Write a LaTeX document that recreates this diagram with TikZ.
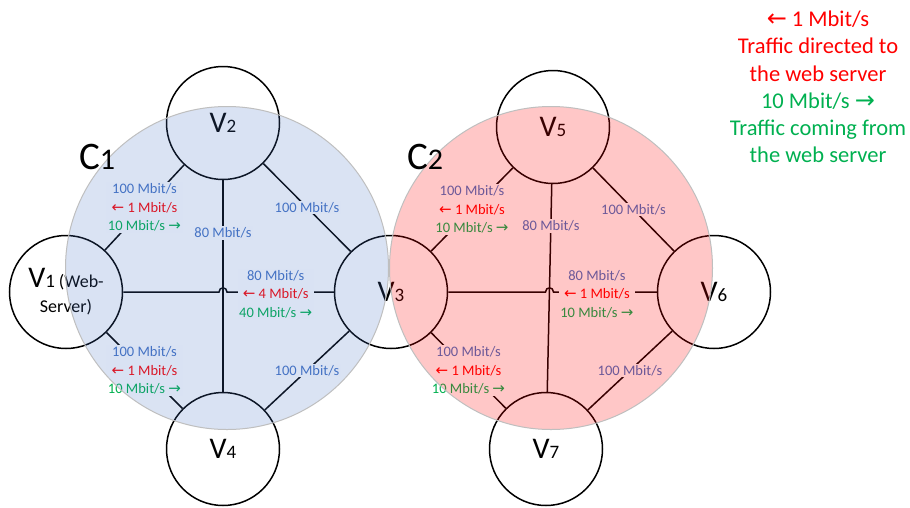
\documentclass[tikz,border=0pt]{standalone}
\usepackage{fontspec}
\setmainfont{Carlito}
\newfontfamily\arrowfont{DejaVu Sans}
\definecolor{tblue}{HTML}{4472C4}
\definecolor{tred}{HTML}{FF0000}
\definecolor{tgreen}{HTML}{00B050}
\newcommand\myla{{\arrowfont\fontsize{15}{15}\selectfont ←}}
\newcommand\myra{{\arrowfont\fontsize{15}{15}\selectfont →}}
\newcommand\bigla{{\arrowfont\fontsize{24}{24}\selectfont ←}}
\newcommand\bigra{{\arrowfont\fontsize{24}{24}\selectfont →}}
\newcommand\vlab[1]{{\fontsize{30}{30}\selectfont V}{\fontsize{19}{19}\selectfont #1}}
\newcommand\clab[1]{{\fontsize{39}{39}\selectfont C}{\fontsize{30}{30}\selectfont #1}}
\newcommand\tri[3]{\textcolor{tblue}{#1 Mbit/s}\\\textcolor{tred}{\myla\ #2 Mbit/s}\\\textcolor{tgreen}{#3 Mbit/s \myra}}
\begin{document}
\begin{tikzpicture}[x=1pt,y=-1pt,
  vnode/.style={circle,draw=black,line width=1.5pt,fill=white,minimum size=113pt,inner sep=0pt},
  edge/.style={draw=black,line width=1.5pt},
  lbl/.style={fill=white,inner sep=1.5pt,align=center,font=\fontsize{14.5}{18.5}\selectfont},
  blbl/.style={lbl,text=tblue},
  cluster/.style={circle,minimum size=323pt,inner sep=0pt,draw=black!25,line width=1pt},
  ]
\useasboundingbox (0,0) rectangle (910,507);
% vertices
\node[vnode,align=center,font=\fontsize{18}{25}\selectfont] (V1) at (66,292) {\vlab{1} (Web-\\Server)};
\node[vnode] (V2) at (223,123) {\vlab{2}};
\node[vnode] (V3) at (391,292) {\vlab{3}};
\node[vnode] (V4) at (223,449) {\vlab{4}};
\node[vnode] (V5) at (553,127) {\vlab{5}};
\node[vnode] (V6) at (714,292) {\vlab{6}};
\node[vnode] (V7) at (546,449) {\vlab{7}};
\coordinate (h1l) at (219,292);
\coordinate (h1r) at (227,292);
\coordinate (h2l) at (545.5,292);
\coordinate (h2r) at (553.5,292);
% cluster 1 edges
\draw[edge] (V1) -- node[lbl]{\tri{100}{1}{10}} (V2);
\draw[edge] (V2) -- node[blbl]{100 Mbit/s} (V3);
\draw[edge] (V1) -- node[lbl]{\tri{100}{1}{10}} (V4);
\draw[edge] (V4) -- node[blbl]{100 Mbit/s} (V3);
\draw[edge] (V2) -- node[blbl,pos=.25]{80 Mbit/s} (V4);
\draw[edge] (V1) -- (h1l) .. controls +(0,-5.5) and +(0,-5.5) .. (h1r) -- node[lbl,pos=.456,yshift=-2pt]{\tri{80}{4}{40}} (V3);
% cluster 2 edges
\draw[edge] (V3) -- node[lbl]{\tri{100}{1}{10}} (V5);
\draw[edge] (V5) -- node[blbl]{100 Mbit/s} (V6);
\draw[edge] (V3) -- node[lbl]{\tri{100}{1}{10}} (V7);
\draw[edge] (V7) -- node[blbl]{100 Mbit/s} (V6);
\draw[edge] (V5) -- node[blbl,pos=.2]{80 Mbit/s} (V7);
\draw[edge] (V3) -- (h2l) .. controls +(0,-5.5) and +(0,-5.5) .. (h2r) -- node[lbl,pos=.42,yshift=-2pt]{\tri{80}{1}{10}} (V6);
% cluster overlays
\node[cluster,fill=tblue,fill opacity=.2] (C1) at (227,268) {};
\node[cluster,fill=tred,fill opacity=.22] (C2) at (551,268) {};
\node (C1lab) at (97,157) {\clab{1}};
\node (C2lab) at (425,157) {\clab{2}};
% legend
\node[align=center,font=\fontsize{22.5}{27.3}\selectfont] (legend) at (818,87)
  {\textcolor{tred}{\bigla\ 1 Mbit/s}\\\textcolor{tred}{Traffic directed to}\\\textcolor{tred}{the web server}\\
   \textcolor{tgreen}{10 Mbit/s \bigra}\\\textcolor{tgreen}{Traffic coming from}\\\textcolor{tgreen}{the web server}};
\end{tikzpicture}
\end{document}
